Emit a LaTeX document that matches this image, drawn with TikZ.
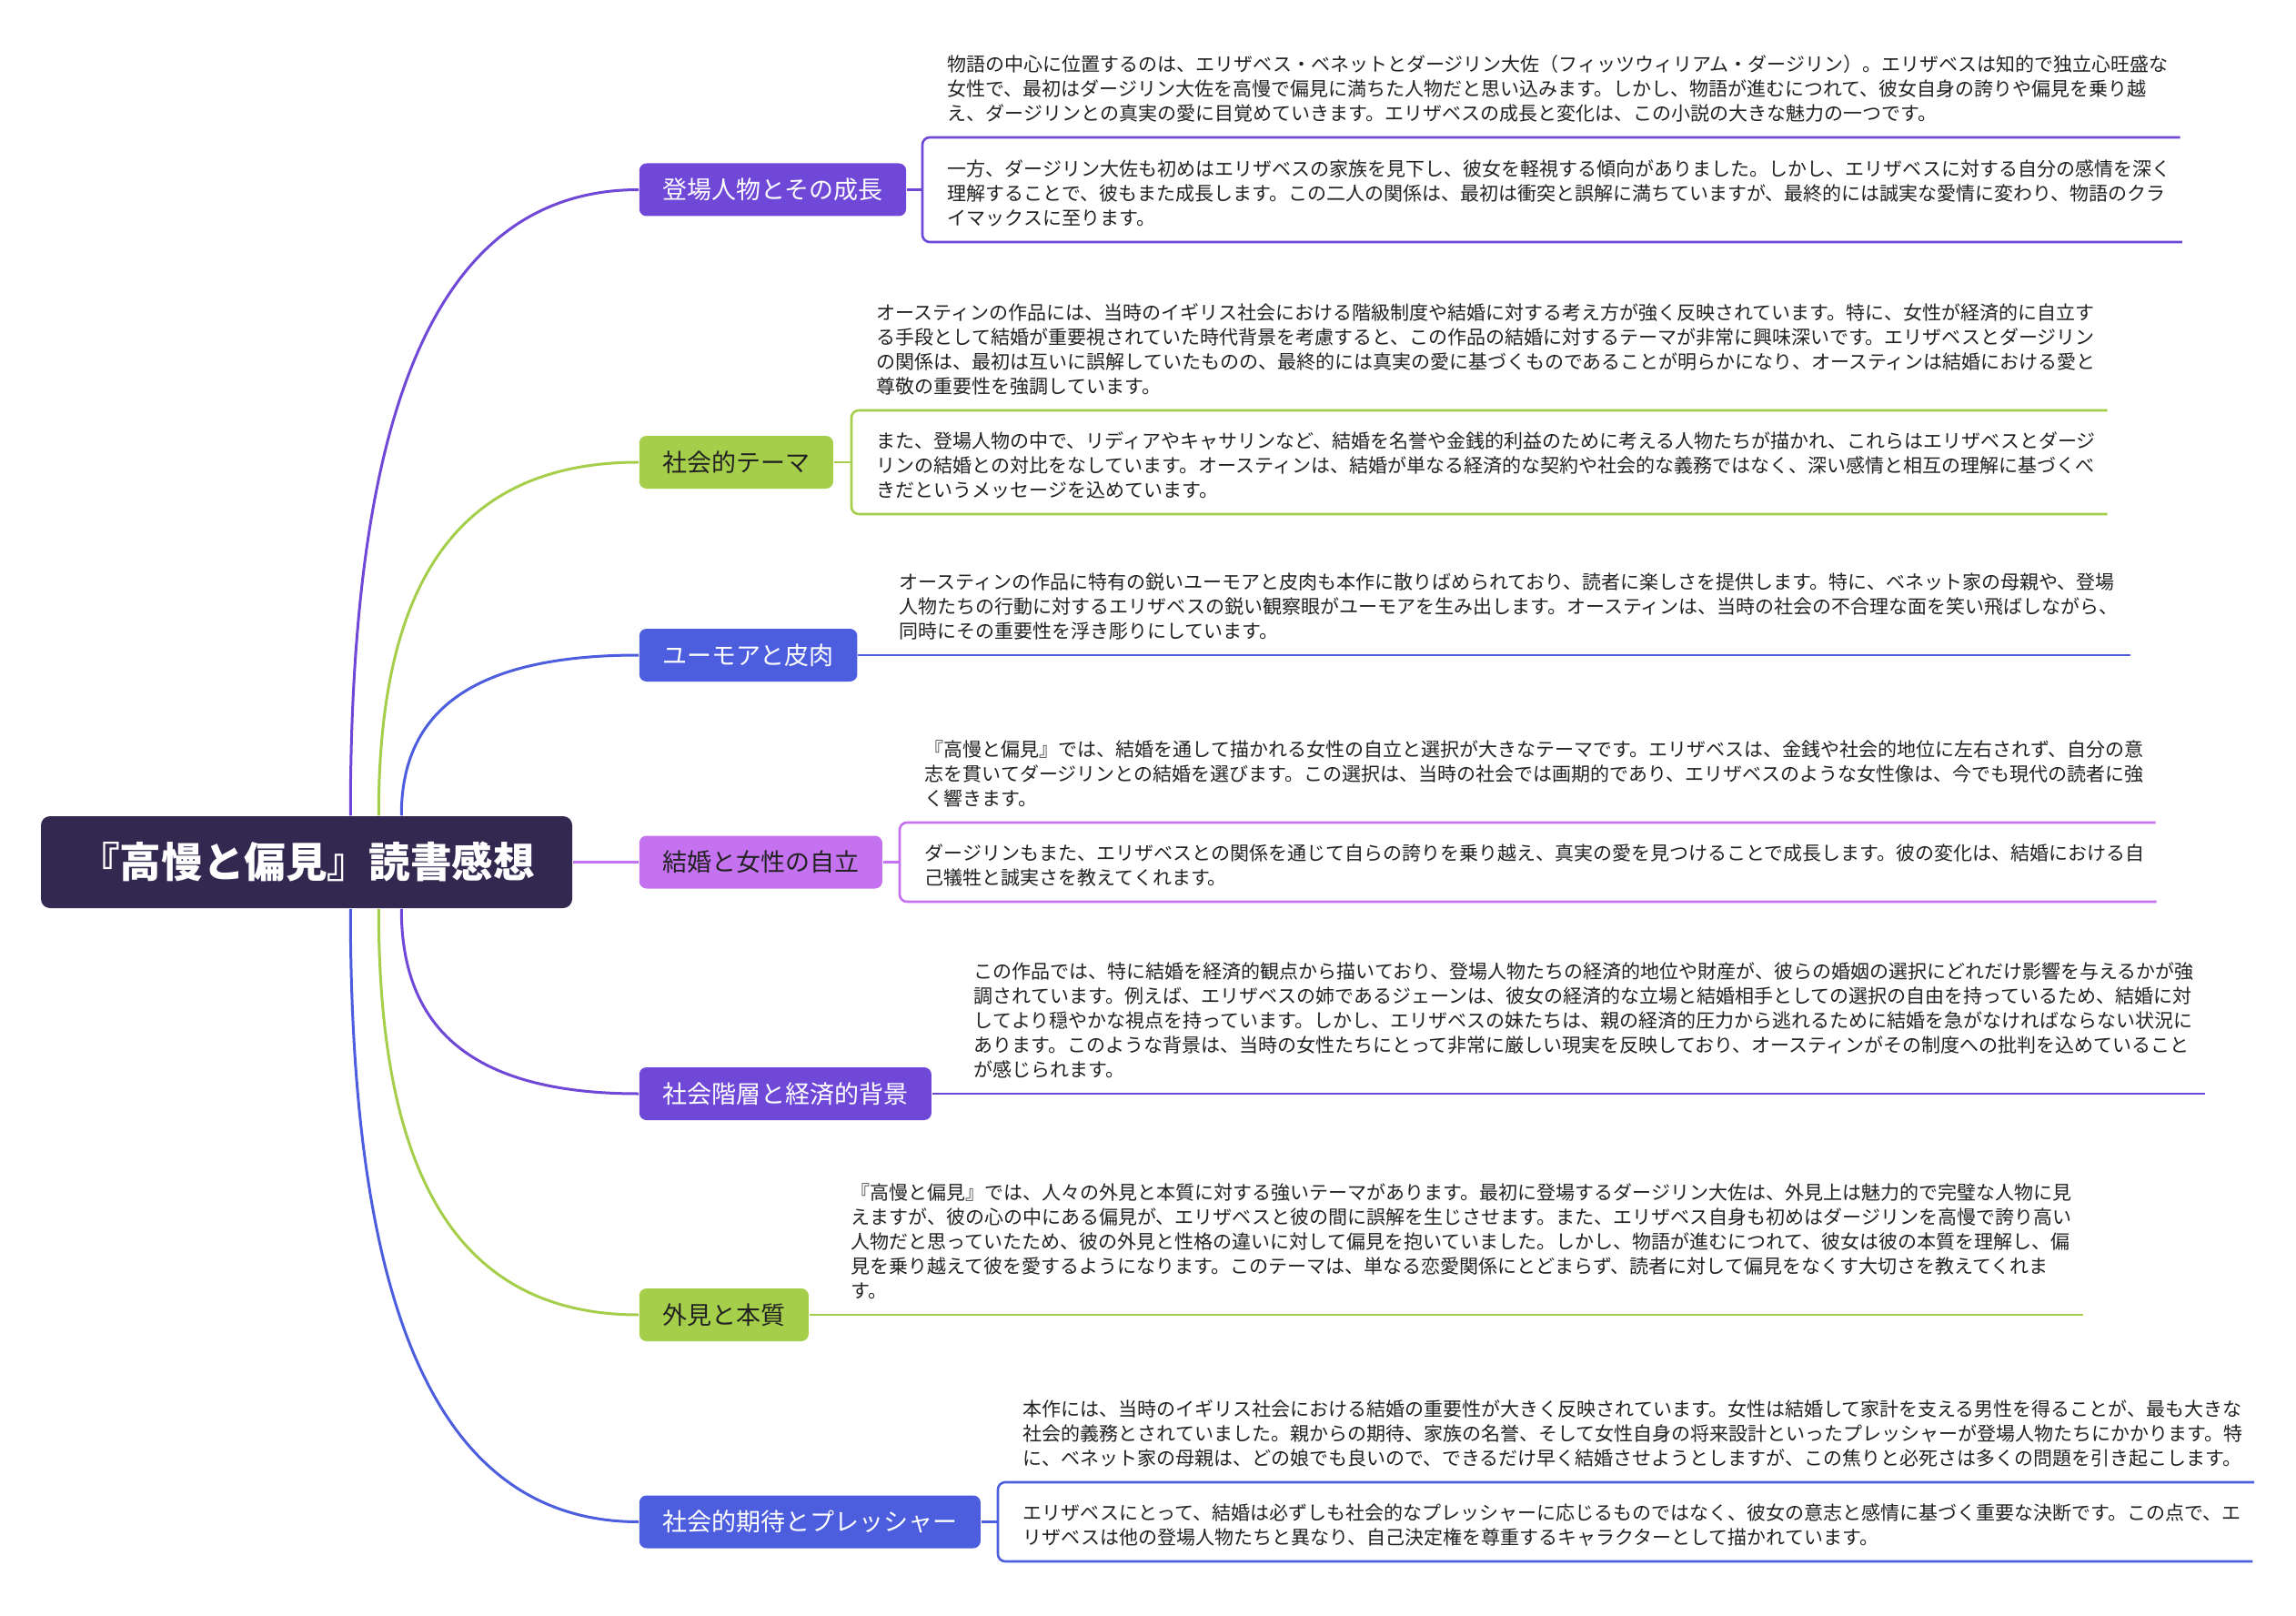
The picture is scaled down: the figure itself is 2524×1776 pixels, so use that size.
\documentclass[tikz,border=0pt]{standalone}
\usepackage{fontspec}
\setmainfont{Noto Sans CJK JP}

\definecolor{rootc}{HTML}{332850}
\definecolor{purp}{HTML}{7048D8}
\definecolor{grn}{HTML}{A5CE4A}
\definecolor{blu}{HTML}{4C5EDE}
\definecolor{lilac}{HTML}{C472F0}
\definecolor{leaftext}{HTML}{222222}

\tikzset{every picture/.style={line width=0.75pt}}
\tikzset{
  rootnode/.style={rectangle, rounded corners=5pt, fill=rootc, text=white, minimum width=292pt, minimum height=50.5pt, inner sep=0pt, font=\fontsize{22.8pt}{26pt}\selectfont\bfseries},
  branch/.style={rectangle, rounded corners=4pt, inner xsep=12.8pt, inner ysep=0pt, minimum height=29pt, anchor=west, font=\fontsize{13.5pt}{16pt}\selectfont},
  leaf/.style={inner xsep=13.5pt, inner ysep=8pt, align=left, anchor=south west, text=leaftext, font=\fontsize{10.5pt}{13.5pt}\selectfont},
  curve/.style={line width=1.5pt},
  link/.style={line width=1.3pt, rounded corners=4pt},
}

\begin{document}
\begin{tikzpicture}[x=0.5pt,y=0.5pt,yscale=-1,xscale=1]
	\path[fill=white] (0,0) rectangle (2524,1776);

	%Shape: Root
	\node[rootnode] (root) at (337,947.5) {『高慢と偏見』読書感想};

	%Shape: Branches
	\node[branch, fill=purp, text=white] (b1) at (702,208.5) {登場人物とその成長};
	\node[branch, fill=grn, text=leaftext] (b2) at (702,508) {社会的テーマ};
	\node[branch, fill=blu, text=white] (b3) at (702,720) {ユーモアと皮肉};
	\node[branch, fill=lilac, text=leaftext] (b4) at (702,947.5) {結婚と女性の自立};
	\node[branch, fill=purp, text=white] (b5) at (702,1202) {社会階層と経済的背景};
	\node[branch, fill=grn, text=leaftext] (b6) at (702,1445) {外見と本質};
	\node[branch, fill=blu, text=white] (b7) at (702,1672.5) {社会的期待とプレッシャー};

	% Text Node
	\node[leaf] (l1a) at (1014,151) {物語の中心に位置するのは、エリザベス・ベネットとダージリン大佐（フィッツウィリアム・ダージリン）。エリザベスは知的で独立心旺盛な\\女性で、最初はダージリン大佐を高慢で偏見に満ちた人物だと思い込みます。しかし、物語が進むにつれて、彼女自身の誇りや偏見を乗り越\\え、ダージリンとの真実の愛に目覚めていきます。エリザベスの成長と変化は、この小説の大きな魅力の一つです。};
	% Text Node
	\node[leaf] (l1b) at (1014,266) {一方、ダージリン大佐も初めはエリザベスの家族を見下し、彼女を軽視する傾向がありました。しかし、エリザベスに対する自分の感情を深く\\理解することで、彼もまた成長します。この二人の関係は、最初は衝突と誤解に満ちていますが、最終的には誠実な愛情に変わり、物語のクラ\\イマックスに至ります。};
	% Text Node
	\node[leaf] (l2a) at (936,451) {オースティンの作品には、当時のイギリス社会における階級制度や結婚に対する考え方が強く反映されています。特に、女性が経済的に自立す\\る手段として結婚が重要視されていた時代背景を考慮すると、この作品の結婚に対するテーマが非常に興味深いです。エリザベスとダージリン\\の関係は、最初は互いに誤解していたものの、最終的には真実の愛に基づくものであることが明らかになり、オースティンは結婚における愛と\\尊敬の重要性を強調しています。};
	% Text Node
	\node[leaf] (l2b) at (936,565) {また、登場人物の中で、リディアやキャサリンなど、結婚を名誉や金銭的利益のために考える人物たちが描かれ、これらはエリザベスとダージ\\リンの結婚との対比をなしています。オースティンは、結婚が単なる経済的な契約や社会的な義務ではなく、深い感情と相互の理解に基づくべ\\きだというメッセージを込めています。};
	% Text Node
	\node[leaf] (l3) at (961,720) {オースティンの作品に特有の鋭いユーモアと皮肉も本作に散りばめられており、読者に楽しさを提供します。特に、ベネット家の母親や、登場\\人物たちの行動に対するエリザベスの鋭い観察眼がユーモアを生み出します。オースティンは、当時の社会の不合理な面を笑い飛ばしながら、\\同時にその重要性を浮き彫りにしています。};
	% Text Node
	\node[leaf] (l4a) at (989,904) {『高慢と偏見』では、結婚を通して描かれる女性の自立と選択が大きなテーマです。エリザベスは、金銭や社会的地位に左右されず、自分の意\\志を貫いてダージリンとの結婚を選びます。この選択は、当時の社会では画期的であり、エリザベスのような女性像は、今でも現代の読者に強\\く響きます。};
	% Text Node
	\node[leaf] (l4b) at (989,991) {ダージリンもまた、エリザベスとの関係を通じて自らの誇りを乗り越え、真実の愛を見つけることで成長します。彼の変化は、結婚における自\\己犠牲と誠実さを教えてくれます。};
	% Text Node
	\node[leaf] (l5) at (1043,1202) {この作品では、特に結婚を経済的観点から描いており、登場人物たちの経済的地位や財産が、彼らの婚姻の選択にどれだけ影響を与えるかが強\\調されています。例えば、エリザベスの姉であるジェーンは、彼女の経済的な立場と結婚相手としての選択の自由を持っているため、結婚に対\\してより穏やかな視点を持っています。しかし、エリザベスの妹たちは、親の経済的圧力から逃れるために結婚を急がなければならない状況に\\あります。このような背景は、当時の女性たちにとって非常に厳しい現実を反映しており、オースティンがその制度への批判を込めていること\\が感じられます。};
	% Text Node
	\node[leaf] (l6) at (908,1445) {『高慢と偏見』では、人々の外見と本質に対する強いテーマがあります。最初に登場するダージリン大佐は、外見上は魅力的で完璧な人物に見\\えますが、彼の心の中にある偏見が、エリザベスと彼の間に誤解を生じさせます。また、エリザベス自身も初めはダージリンを高慢で誇り高い\\人物だと思っていたため、彼の外見と性格の違いに対して偏見を抱いていました。しかし、物語が進むにつれて、彼女は彼の本質を理解し、偏\\見を乗り越えて彼を愛するようになります。このテーマは、単なる恋愛関係にとどまらず、読者に対して偏見をなくす大切さを教えてくれま\\す。};
	% Text Node
	\node[leaf] (l7a) at (1097,1629) {本作には、当時のイギリス社会における結婚の重要性が大きく反映されています。女性は結婚して家計を支える男性を得ることが、最も大きな\\社会的義務とされていました。親からの期待、家族の名誉、そして女性自身の将来設計といったプレッシャーが登場人物たちにかかります。特\\に、ベネット家の母親は、どの娘でも良いので、できるだけ早く結婚させようとしますが、この焦りと必死さは多くの問題を引き起こします。};
	% Text Node
	\node[leaf] (l7b) at (1097,1716) {エリザベスにとって、結婚は必ずしも社会的なプレッシャーに応じるものではなく、彼女の意志と感情に基づく重要な決断です。この点で、エ\\リザベスは他の登場人物たちと異なり、自己決定権を尊重するキャラクターとして描かれています。};

	%Curve Lines
	\draw[curve, purp] ([xshift=170.5pt]root.north west) .. controls +(0,-413) and +(-237,0) .. (b1.west);
	\draw[curve, grn] ([xshift=186pt]root.north west) .. controls +(0,-234) and +(-214,0) .. (b2.west);
	\draw[curve, blu] ([xshift=198.5pt]root.north west) .. controls +(0,-106) and +(-195,0) .. (b3.west);
	\draw[curve, lilac] (root.east) -- (b4.west);
	\draw[curve, purp] ([xshift=198.5pt]root.south west) .. controls +(0,122) and +(-195,0) .. (b5.west);
	\draw[curve, grn] ([xshift=186pt]root.south west) .. controls +(0,268) and +(-214,0) .. (b6.west);
	\draw[curve, blu] ([xshift=170.5pt]root.south west) .. controls +(0,405) and +(-237,0) .. (b7.west);

	%Straight Lines
	\draw[link, purp] (b1.east) -- (b1.east -| l1a.west);
	\draw[link, purp] ([xshift=-7.5pt]l1a.south east) -- (l1a.south west) -- (l1b.south west) -- ([xshift=-7.5pt]l1b.south east);
	\draw[link, grn] (b2.east) -- (b2.east -| l2a.west);
	\draw[link, grn] ([xshift=-7.5pt]l2a.south east) -- (l2a.south west) -- (l2b.south west) -- ([xshift=-7.5pt]l2b.south east);
	\draw[link, blu] (b3.east) -- (l3.south west) -- ([xshift=-7.5pt]l3.south east);
	\draw[link, lilac] (b4.east) -- (b4.east -| l4a.west);
	\draw[link, lilac] ([xshift=-7.5pt]l4a.south east) -- (l4a.south west) -- (l4b.south west) -- ([xshift=-7.5pt]l4b.south east);
	\draw[link, purp] (b5.east) -- (l5.south west) -- ([xshift=-7.5pt]l5.south east);
	\draw[link, grn] (b6.east) -- (l6.south west) -- ([xshift=-7.5pt]l6.south east);
	\draw[link, blu] (b7.east) -- (b7.east -| l7a.west);
	\draw[link, blu] ([xshift=-7.5pt]l7a.south east) -- (l7a.south west) -- (l7b.south west) -- ([xshift=-7.5pt]l7b.south east);

\end{tikzpicture}
\end{document}
